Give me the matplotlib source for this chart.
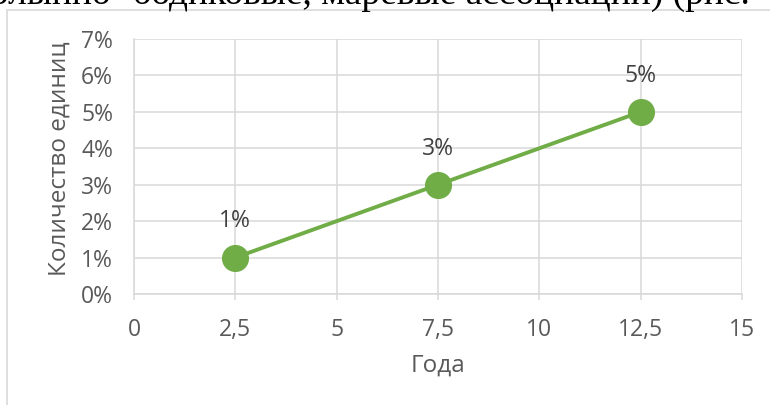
import matplotlib.pyplot as plt
from matplotlib.patches import Rectangle
from matplotlib.ticker import FuncFormatter, MultipleLocator

plt.rcParams["font.family"] = ['Open Sans', 'DejaVu Sans']

years = [2.5, 7.5, 12.5]
shares = [0.01, 0.03, 0.05]
point_labels = ['1%', '3%', '5%']

fig = plt.figure(figsize=(7.7, 4.05), dpi=100)

# cut-off line of the document text above the chart
fig.text(-30 / 770, 1 - 4 / 405, 'полынно- бодиковые, маревые ассоциации) (рис. 4',
         family='Liberation Serif', fontsize=27, color='black', va='baseline')

# chart frame
fig.patches.append(Rectangle((7 / 770, -0.1), 1.2, 1 - 10 / 405 + 0.1,
                             transform=fig.transFigure, fill=False,
                             edgecolor='#d9d9d9', linewidth=1.2))

ax = fig.add_axes([134 / 770, 111 / 405, 608 / 770, 255 / 405])
ax.plot(years, shares, color='#70ad47', linewidth=2.8, marker='o',
        markersize=18.5, zorder=3, clip_on=False)
for x, y, t in zip(years, shares, point_labels):
    ax.annotate(t, (x, y), xytext=(0, 26), textcoords='offset points',
                ha='center', va='center', fontsize=16.5, color='#404040')

ax.set_xlim(0, 15)
ax.set_ylim(0, 0.07)
ax.xaxis.set_major_locator(MultipleLocator(2.5))
ax.yaxis.set_major_locator(MultipleLocator(0.01))
ax.xaxis.set_major_formatter(FuncFormatter(lambda v, p: f'{v:g}'.replace('.', ',')))
ax.yaxis.set_major_formatter(FuncFormatter(lambda v, p: f'{v * 100:.0f}%'))

ax.grid(True, color='#d9d9d9', linewidth=1.1)
ax.set_axisbelow(True)
for s in ['top', 'right']:
    ax.spines[s].set_visible(False)
for s in ['left', 'bottom']:
    ax.spines[s].set_color('#d9d9d9')
    ax.spines[s].set_linewidth(1.1)

ax.tick_params(axis='x', length=4, width=1.1, color='#d9d9d9', pad=13,
               labelsize=16.5, labelcolor='#595959')
ax.tick_params(axis='y', length=0, pad=15, labelsize=16.5, labelcolor='#595959')

ax.set_xlabel('Года', fontsize=17.5, color='#595959', labelpad=9)
ax.set_ylabel('Количество единиц', fontsize=17.5, color='#595959')
ax.yaxis.set_label_coords(-0.102, 0.53)

fig.savefig('out.png', dpi=100)
